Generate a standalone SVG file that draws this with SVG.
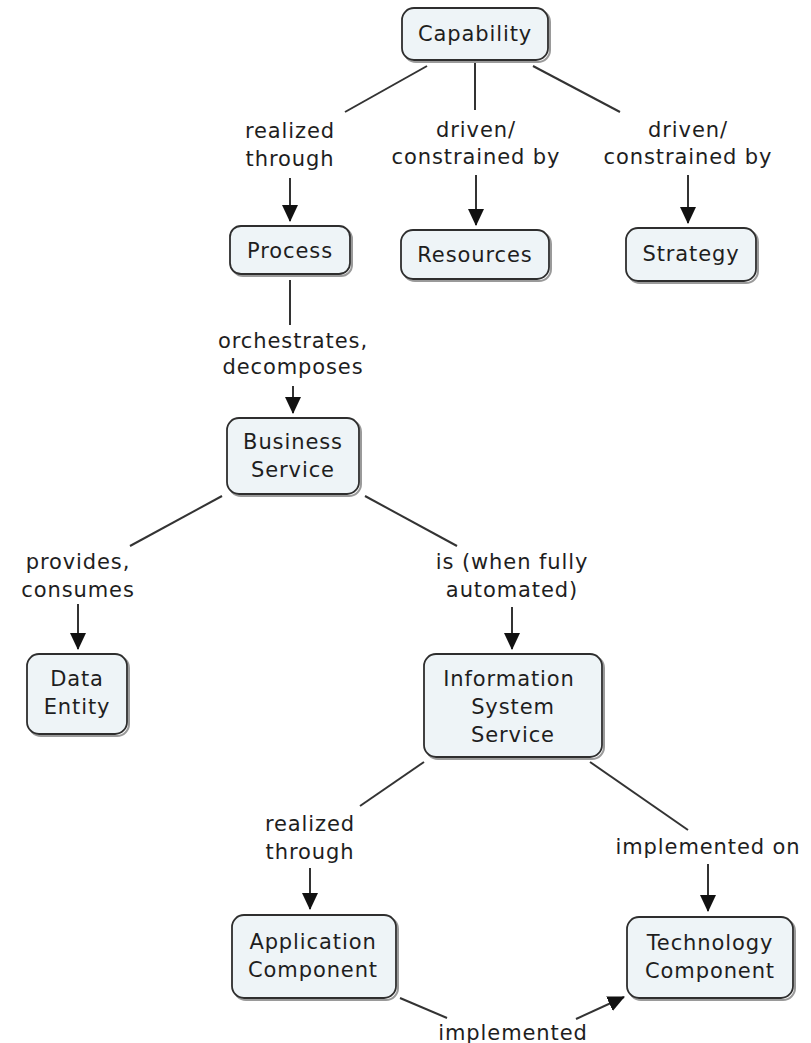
<svg xmlns="http://www.w3.org/2000/svg" width="811" height="1043" viewBox="0 0 811 1043">
<style>
.n rect.b{fill:#eef4f7;stroke:#2e2e2e;stroke-width:1.8}
.n rect.s{fill:none;stroke:#9a9a9a;stroke-width:2}
text{font-family:"DejaVu Sans",Verdana,sans-serif;font-size:21px;letter-spacing:0.9px;fill:#1e1e1e;text-anchor:middle}
.c line{stroke:#333;stroke-width:2}
</style>
<defs>
<marker id="ah" markerWidth="17" markerHeight="16" refX="16" refY="8" orient="auto" markerUnits="userSpaceOnUse" viewBox="0 0 17 16">
<path d="M0,0 L17,8 L0,16 Z" fill="#111"/>
</marker>
</defs>
<rect width="811" height="1043" fill="#fff"/>
<g class="c">
<line x1="427" y1="66" x2="345" y2="112"/>
<line x1="290" y1="178" x2="290" y2="221" marker-end="url(#ah)"/>
<line x1="475" y1="62" x2="475" y2="110"/>
<line x1="476" y1="175" x2="476" y2="225" marker-end="url(#ah)"/>
<line x1="533" y1="66" x2="620" y2="112"/>
<line x1="688" y1="175" x2="688" y2="223" marker-end="url(#ah)"/>
<line x1="290" y1="280" x2="290" y2="325"/>
<line x1="293" y1="386" x2="293" y2="413" marker-end="url(#ah)"/>
<line x1="222" y1="496" x2="130" y2="546"/>
<line x1="78" y1="604" x2="78" y2="649" marker-end="url(#ah)"/>
<line x1="365" y1="496" x2="457" y2="546"/>
<line x1="512" y1="607" x2="512" y2="649" marker-end="url(#ah)"/>
<line x1="424" y1="762" x2="360" y2="806"/>
<line x1="310" y1="868" x2="310" y2="909" marker-end="url(#ah)"/>
<line x1="590" y1="762" x2="688" y2="830"/>
<line x1="708" y1="864" x2="708" y2="911" marker-end="url(#ah)"/>
<line x1="400" y1="998" x2="447" y2="1018"/>
<line x1="576" y1="1019" x2="624" y2="997" marker-end="url(#ah)"/>
<text x="290" y="138">realized</text>
<text x="290" y="166">through</text>
<text x="476" y="137">driven/</text>
<text x="476" y="164">constrained by</text>
<text x="688" y="137">driven/</text>
<text x="688" y="164">constrained by</text>
<text x="293" y="348">orchestrates,</text>
<text x="293" y="374">decomposes</text>
<text x="78" y="569">provides,</text>
<text x="78" y="597">consumes</text>
<text x="512" y="569">is (when fully</text>
<text x="512" y="597">automated)</text>
<text x="310" y="831">realized</text>
<text x="310" y="859">through</text>
<text x="708" y="854">implemented on</text>
<text x="513" y="1040">implemented</text>
</g>
<g id="capability" class="n"><rect class="s" x="404" y="10" width="146" height="52" rx="12"/><rect class="b" x="402" y="8" width="146" height="52" rx="12"/><text x="475" y="41">Capability</text></g>
<g id="process" class="n"><rect class="s" x="232" y="228" width="120" height="48" rx="11"/><rect class="b" x="230" y="226" width="120" height="48" rx="11"/><text x="290" y="258">Process</text></g>
<g id="resources" class="n"><rect class="s" x="403" y="232" width="148" height="49" rx="12"/><rect class="b" x="401" y="230" width="148" height="49" rx="12"/><text x="475" y="262">Resources</text></g>
<g id="strategy" class="n"><rect class="s" x="628" y="230" width="130" height="53" rx="12"/><rect class="b" x="626" y="228" width="130" height="53" rx="12"/><text x="691" y="261">Strategy</text></g>
<g id="business-service" class="n"><rect class="s" x="229" y="420" width="132" height="76" rx="12"/><rect class="b" x="227" y="418" width="132" height="76" rx="12"/><text x="293" y="449">Business</text><text x="293" y="477">Service</text></g>
<g id="data-entity" class="n"><rect class="s" x="29" y="656" width="100" height="80" rx="12"/><rect class="b" x="27" y="654" width="100" height="80" rx="12"/><text x="77" y="686">Data</text><text x="77" y="714">Entity</text></g>
<g id="information-system-service" class="n"><rect class="s" x="426" y="656" width="178" height="103" rx="12"/><rect class="b" x="424" y="654" width="178" height="103" rx="12"/><text x="509" y="686">Information</text><text x="513" y="714">System</text><text x="513" y="742">Service</text></g>
<g id="application-component" class="n"><rect class="s" x="234" y="917" width="164" height="83" rx="12"/><rect class="b" x="232" y="915" width="164" height="83" rx="12"/><text x="313" y="949">Application</text><text x="313" y="977">Component</text></g>
<g id="technology-component" class="n"><rect class="s" x="629" y="919" width="166" height="81" rx="12"/><rect class="b" x="627" y="917" width="166" height="81" rx="12"/><text x="710" y="950">Technology</text><text x="710" y="978">Component</text></g>
</svg>
